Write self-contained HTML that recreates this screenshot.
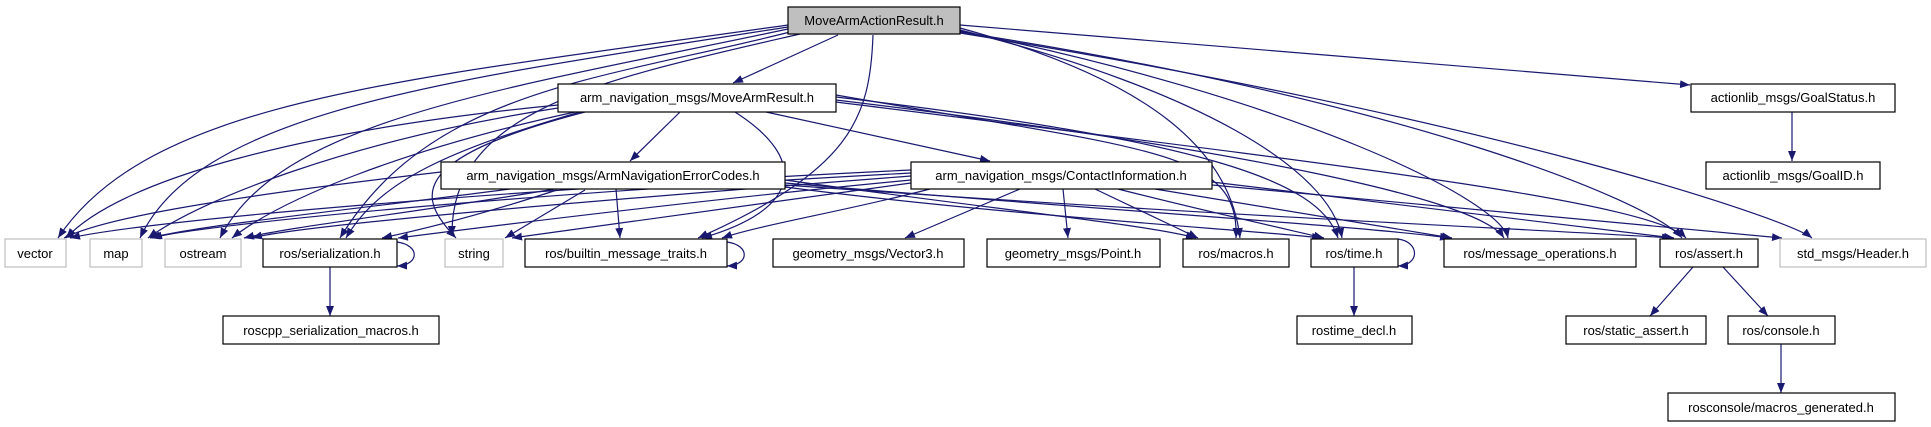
<!DOCTYPE html>
<html><head><meta charset="utf-8"><style>
html,body{margin:0;padding:0;background:#fff;}
svg{display:block}
text{font-family:"Liberation Sans","DejaVu Sans",sans-serif;font-size:13px;fill:#000}
.e{fill:none;stroke:#191970;stroke-width:1.2}
.b{fill:#fff;stroke:#000;stroke-width:1.2}
.g{fill:#fff;stroke:#bfbfbf;stroke-width:1.2}
</style></head><body>
<svg width="1931" height="427" viewBox="0 0 1931 427" xmlns="http://www.w3.org/2000/svg">
<defs><marker id="a" markerWidth="11" markerHeight="8" refX="10" refY="4" orient="auto" markerUnits="userSpaceOnUse"><path d="M0,0 L10,4 L0,8 z" fill="#191970"/></marker></defs>
<g class="e" marker-end="url(#a)">
<!-- MAAR -->
<path d="M788,25 C400,80 150,100 58,238"/>
<path d="M788,27 C450,80 200,110 140,238"/>
<path d="M788,29 C500,90 280,120 220,238"/>
<path d="M790,32 C600,80 430,90 340,238"/>
<path d="M800,34 C600,80 450,110 452,236"/>
<path d="M873,35 C870,120 850,170 698,238"/>
<path d="M838,35 L733,83"/>
<path d="M960,28 C1150,80 1230,150 1240,238"/>
<path d="M960,30 C1200,90 1330,170 1342,238"/>
<path d="M960,31 C1300,100 1500,200 1508,238"/>
<path d="M960,32 C1400,100 1650,200 1682,238"/>
<path d="M960,33 C1500,120 1790,220 1812,238"/>
<path d="M960,25 L1690,85"/>
<!-- MAR -->
<path d="M558,105 C300,130 120,180 66,238"/>
<path d="M558,108 C350,140 200,200 148,238"/>
<path d="M575,112 C400,150 280,200 232,238"/>
<path d="M580,112 C450,150 380,180 346,238"/>
<path d="M585,112 C400,160 420,200 456,238"/>
<path d="M735,112 C810,160 800,210 702,238"/>
<path d="M680,112 L630,161"/>
<path d="M766,112 L990,161"/>
<path d="M836,95 C1150,150 1240,150 1236,238"/>
<path d="M836,97 C1200,140 1320,180 1338,238"/>
<path d="M836,100 C1250,150 1480,200 1504,238"/>
<path d="M836,102 C1300,160 1650,200 1686,238"/>
<!-- ErrorCodes -->
<path d="M441,172 C200,200 100,220 64,238"/>
<path d="M510,189 C350,210 200,225 150,238"/>
<path d="M555,189 C400,215 300,225 244,238"/>
<path d="M557,190 C480,215 420,230 382,238"/>
<path d="M585,190 L505,238"/>
<path d="M616,189 L620,238"/>
<path d="M785,180 C1000,210 1150,225 1196,238"/>
<path d="M785,183 C1100,210 1350,225 1450,238"/>
<path d="M785,185 C1200,215 1550,230 1672,238"/>
<path d="M785,187 C1000,215 1250,230 1322,238"/>
<!-- ContactInfo -->
<path d="M911,170 C500,190 150,220 70,238"/>
<path d="M911,173 C500,195 200,225 152,238"/>
<path d="M911,176 C600,200 300,225 252,238"/>
<path d="M911,180 C700,200 500,225 398,238"/>
<path d="M911,183 C750,205 600,225 512,238"/>
<path d="M930,189 C850,210 760,225 722,238"/>
<path d="M1020,189 L905,238"/>
<path d="M1063,189 L1068,238"/>
<path d="M1095,189 L1198,238"/>
<path d="M1118,189 C1200,210 1290,230 1324,238"/>
<path d="M1155,189 L1452,238"/>
<path d="M1212,182 L1674,238"/>
<path d="M1212,185 L1782,238"/>
<!-- self loops & lower -->
<path d="M397,242 C420,245 420,265 397,266"/>
<path d="M727,242 C750,245 750,265 727,266"/>
<path d="M1398,239 C1420,242 1420,265 1398,266"/>
<path d="M330,267 L330,316"/>
<path d="M1354,267 L1354,316"/>
<path d="M1693,267 L1650,316"/>
<path d="M1723,267 L1768,316"/>
<path d="M1781,344 L1781,393"/>
<path d="M1792,112 L1792,161"/>
</g>
<!-- nodes -->
<rect x="788" y="7" width="172" height="27" fill="#bfbfbf" stroke="#000" stroke-width="1.2"/>
<text x="874" y="25" text-anchor="middle">MoveArmActionResult.h</text>
<rect class="b" x="558" y="84" width="278" height="28"/><text x="697" y="102" text-anchor="middle">arm_navigation_msgs/MoveArmResult.h</text>
<rect class="b" x="1691" y="84" width="204" height="28"/><text x="1793" y="102" text-anchor="middle">actionlib_msgs/GoalStatus.h</text>
<rect class="b" x="441" y="162" width="344" height="27"/><text x="613" y="180" text-anchor="middle">arm_navigation_msgs/ArmNavigationErrorCodes.h</text>
<rect class="b" x="911" y="162" width="301" height="27"/><text x="1061" y="180" text-anchor="middle">arm_navigation_msgs/ContactInformation.h</text>
<rect class="b" x="1706" y="162" width="174" height="27"/><text x="1793" y="180" text-anchor="middle">actionlib_msgs/GoalID.h</text>
<rect class="g" x="5" y="239" width="61" height="28"/><text x="35" y="258" text-anchor="middle" fill="#000">vector</text>
<rect class="g" x="90" y="239" width="52" height="28"/><text x="116" y="258" text-anchor="middle">map</text>
<rect class="g" x="165" y="239" width="76" height="28"/><text x="203" y="258" text-anchor="middle">ostream</text>
<rect class="b" x="263" y="239" width="134" height="28"/><text x="330" y="258" text-anchor="middle">ros/serialization.h</text>
<rect class="g" x="445" y="239" width="58" height="28"/><text x="474" y="258" text-anchor="middle">string</text>
<rect class="b" x="525" y="239" width="202" height="28"/><text x="626" y="258" text-anchor="middle">ros/builtin_message_traits.h</text>
<rect class="b" x="773" y="239" width="191" height="28"/><text x="868" y="258" text-anchor="middle">geometry_msgs/Vector3.h</text>
<rect class="b" x="987" y="239" width="173" height="28"/><text x="1073" y="258" text-anchor="middle">geometry_msgs/Point.h</text>
<rect class="b" x="1183" y="239" width="106" height="28"/><text x="1236" y="258" text-anchor="middle">ros/macros.h</text>
<rect class="b" x="1311" y="239" width="87" height="28"/><text x="1354" y="258" text-anchor="middle">ros/time.h</text>
<rect class="b" x="1444" y="239" width="192" height="28"/><text x="1540" y="258" text-anchor="middle">ros/message_operations.h</text>
<rect class="b" x="1660" y="239" width="98" height="28"/><text x="1709" y="258" text-anchor="middle">ros/assert.h</text>
<rect class="g" x="1780" y="239" width="146" height="28"/><text x="1853" y="258" text-anchor="middle">std_msgs/Header.h</text>
<rect class="b" x="223" y="316" width="216" height="28"/><text x="331" y="335" text-anchor="middle">roscpp_serialization_macros.h</text>
<rect class="b" x="1297" y="316" width="115" height="28"/><text x="1354" y="335" text-anchor="middle">rostime_decl.h</text>
<rect class="b" x="1566" y="316" width="140" height="28"/><text x="1636" y="335" text-anchor="middle">ros/static_assert.h</text>
<rect class="b" x="1728" y="316" width="107" height="28"/><text x="1781" y="335" text-anchor="middle">ros/console.h</text>
<rect class="b" x="1668" y="393" width="227" height="28"/><text x="1781" y="412" text-anchor="middle">rosconsole/macros_generated.h</text>
</svg>
</body></html>
